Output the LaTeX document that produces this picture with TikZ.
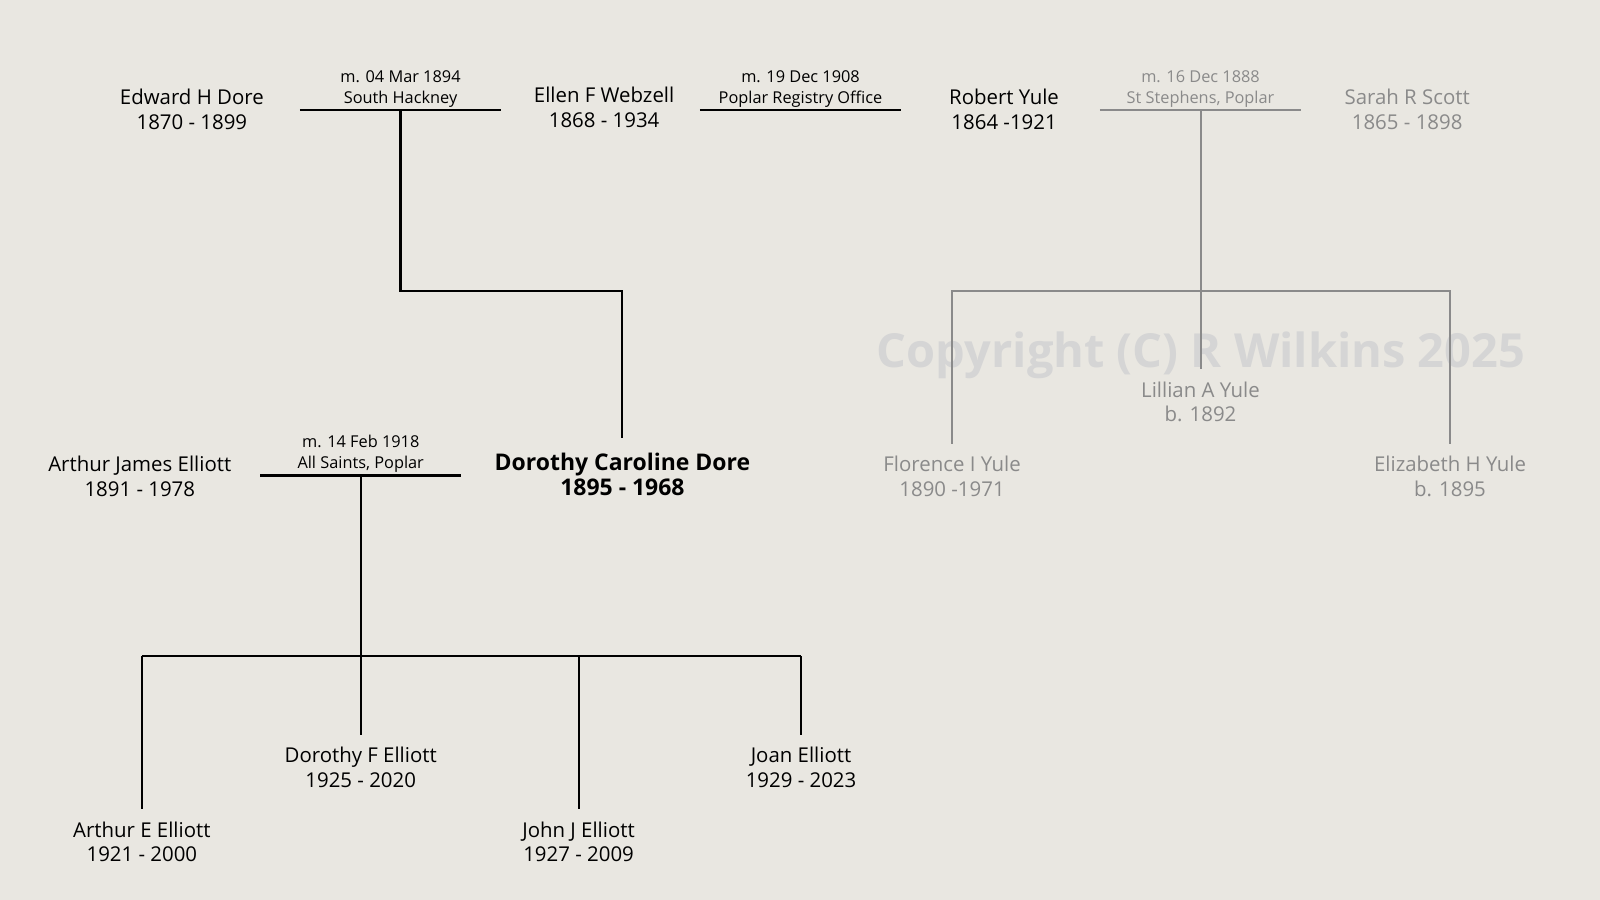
\documentclass[tikz,border=0pt]{standalone}
\usepackage{fontspec}
\setmainfont{Open Sans}
\usetikzlibrary{positioning}
\definecolor{paper}{HTML}{E9E7E1}
\definecolor{faded}{HTML}{8A8A8A}
\definecolor{stamp}{HTML}{D5D5D5}

\begin{document}
\begin{tikzpicture}[x=1pt,y=-1pt]
	\tikzstyle{person}=[align=center,font=\fontsize{20}{24}\selectfont,inner sep=0pt]
	\tikzstyle{wedding}=[align=center,font=\fontsize{16}{20}\selectfont,inner xsep=0pt,inner ysep=3pt,minimum width=197pt,anchor=south]
	\tikzstyle{line}=[line width=2pt]
	\tikzstyle{other}=[faded]

	\fill[paper] (0,0) rectangle (1568,882);
	\useasboundingbox (0,0) rectangle (1568,882);

	% watermark
	\node[font=\bfseries\fontsize{46}{50}\selectfont, text=stamp] (stamp) at (1177,348) {Copyright (C) R Wilkins 2025};

	% parents
	\node[person] (edward) at (188,107) {Edward H Dore\\1870 - 1899};
	\node[person] (ellen) at (592,105) {Ellen F Webzell\\1868 - 1934};
	\node[person] (robert) at (984,107) {Robert Yule\\1864 -1921};
	\node[person, other] (sarah) at (1379,107) {Sarah R Scott\\1865 - 1898};

	\node[wedding] (wed1) at (392.5,108) {m. 04 Mar 1894\\South Hackney};
	\node[wedding] (wed2) at (784.5,108) {m. 19 Dec 1908\\Poplar Registry Office};
	\node[wedding, other] (wed3) at (1176.5,108) {m. 16 Dec 1888\\St Stephens, Poplar};
	\draw[line] (wed1.south west) -- (wed1.south east);
	\draw[line] (wed2.south west) -- (wed2.south east);
	\draw[line, other] (wed3.south west) -- (wed3.south east);

	% Dorothy and husband
	\node[person, font=\bfseries\fontsize{22.5}{25}\selectfont] (dorothy) at (610,465) {Dorothy Caroline Dore\\1895 - 1968};
	\node[person] (arthur) at (137,467) {Arthur James Elliott\\1891 - 1978};
	\node[wedding] (wed4) at (353.5,466) {m. 14 Feb 1918\\All Saints, Poplar};
	\draw[line] (wed4.south west) -- (wed4.south east);
	\draw[line, shorten >=14pt] (wed1.south) -- ++(0,177) -| (dorothy.north);

	% Yule children
	\node[person, other] (lillian) at (1176.5,394) {Lillian A Yule\\b. 1892};
	\node[person, other] (florence) at (933,467) {Florence I Yule\\1890 -1971};
	\node[person, other] (elizabeth) at (1421,467) {Elizabeth H Yule\\b. 1895};
	\coordinate (yulefork) at (1176.5,285);
	\draw[line, other, shorten >=12pt] (wed3.south) -- (lillian.north);
	\draw[line, other, shorten <=12pt, shorten >=12pt] (florence.north) -- (florence.north |- yulefork) -- (elizabeth.north |- yulefork) -- (elizabeth.north);

	% Elliott children
	\node[person] (arthurE) at (139,825) {Arthur E Elliott\\1921 - 2000};
	\node[person] (dorothyF) at (353.5,752) {Dorothy F Elliott\\1925 - 2020};
	\node[person] (johnJ) at (567,825) {John J Elliott\\1927 - 2009};
	\node[person] (joan) at (785,752) {Joan Elliott\\1929 - 2023};
	\coordinate (ellfork) at (353.5,643);
	\draw[line] (wed4.south) -- (ellfork);
	\draw[line] (arthurE.north |- ellfork) -- (joan.north |- ellfork);
	\foreach \kid in {arthurE, dorothyF, johnJ, joan}
		\draw[line, shorten >=12pt] (\kid.north |- ellfork) -- (\kid.north);
\end{tikzpicture}
\end{document}
